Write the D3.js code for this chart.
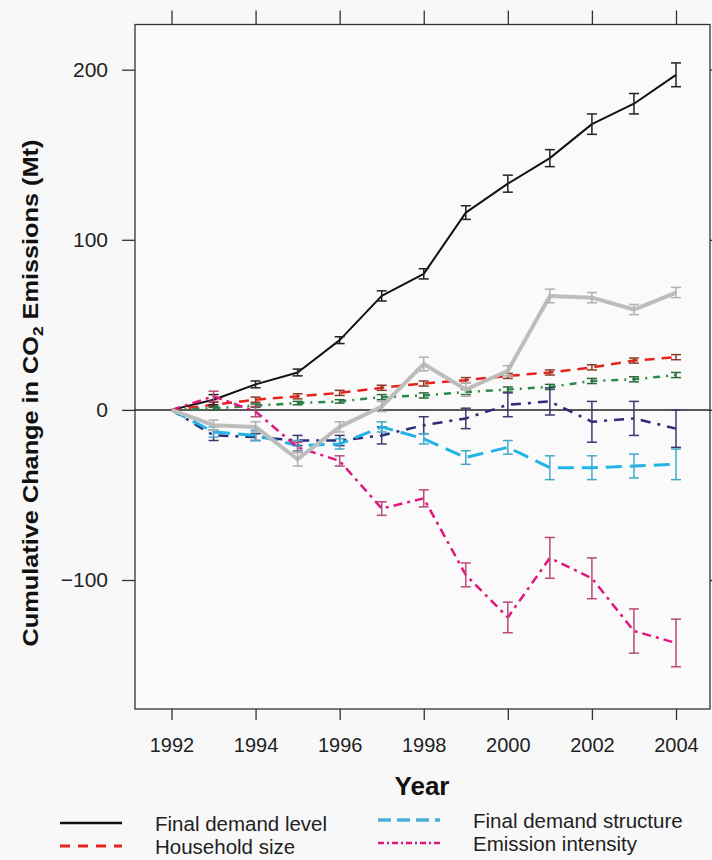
<!DOCTYPE html>
<html>
  <head>
    <meta charset="utf-8" />
    <script src="https://d3js.org/d3.v7.min.js"></script>
    <style>
      body { margin: 0; background: #f8f8f8; }
      svg { display: block; font-family: "Liberation Sans", Arial, sans-serif; }
    </style>
  </head>
  <body>
    <div id="main"></div>
    <script>
      // Data
      const years = [1992, 1993, 1994, 1995, 1996, 1997, 1998, 1999, 2000, 2001, 2002, 2003, 2004];
      const xTicks = [1992, 1994, 1996, 1998, 2000, 2002, 2004];
      const yTicks = [-100, 0, 100, 200];

      const finalDemandLevel = [0, 6, 15, 22, 41, 67, 80, 116, 133, 148, 168, 180, 197];
      const finalDemandLevelErr = [0, 3, 2, 2, 2, 3, 3, 4, 5, 5, 6, 6, 7];
      const householdSize = [0, 3, 6, 8, 10, 13, 15.5, 17.5, 20, 22, 25, 29, 31];
      const householdSizeErr = [0, 1.5, 1.5, 1.5, 1.5, 1.5, 1.5, 1.5, 1.5, 1.5, 1.5, 1.5, 1.5];
      const greenSeries = [0, 1, 2.5, 4, 5, 7.5, 8.5, 10.5, 12, 13.5, 17, 18, 20.5];
      const greenSeriesErr = [0, 1, 1, 1, 1, 1.5, 1.5, 1.5, 1.5, 1.5, 1.5, 1.5, 1.5];
      const navySeries = [0, -15, -16, -18, -18, -15, -9, -5, 3, 5, -7, -5, -11];
      const navySeriesErr = [0, 3, 2, 3, 3, 5, 5, 6, 7, 8, 12, 10, 11];
      const finalDemandStructure = [0, -13, -15, -21, -20, -10, -17, -28, -22, -34, -34, -33, -32];
      const finalDemandStructureErr = [0, 3, 3, 3, 3, 3, 3, 4, 4, 7, 7, 7, 9];
      const emissionIntensity = [0, 8, -1, -22, -30, -58, -52, -97, -122, -87, -99, -130, -137];
      const emissionIntensityErr = [0, 3, 3, 3, 3, 4, 5, 7, 9, 12, 12, 13, 14];
      const totalChange = [0, -9, -10, -29, -10, 2, 27, 12, 23, 67, 66, 59, 69];
      const totalChangeErr = [0, 3, 3, 4, 3, 3, 4, 4, 3, 4, 3, 3, 3];

      const legendLabels = ["Final demand level", "Household size", "Final demand structure", "Emission intensity"];

      const W = 712, H = 860;
      const svg = d3.select("#main").append("svg").attr("width", W).attr("height", H);

      const frame = { left: 135, right: 710, top: 24.5, bottom: 709 };
      const x = d3.scaleLinear().domain([1992, 2004]).range([171.5, 676]);
      const y = d3.scaleLinear().domain([-100, 200]).range([580, 69.7]);

      // plot background + frame
      svg.append("rect")
        .attr("x", frame.left).attr("y", frame.top)
        .attr("width", frame.right - frame.left).attr("height", frame.bottom - frame.top)
        .attr("fill", "#fafafa").attr("stroke", "#333").attr("stroke-width", 1.3);

      // axes (ticks outward)
      const axisStyle = (g) => {
        g.select(".domain").remove();
        g.selectAll(".tick line").attr("stroke", "#333").attr("stroke-width", 1.3);
        g.selectAll(".tick text").attr("fill", "#222").attr("font-family", "Liberation Sans, Arial, sans-serif");
      };
      svg.append("g").attr("transform", `translate(0,${frame.bottom})`)
        .call(d3.axisBottom(x).tickValues(xTicks).tickFormat(d3.format("d")).tickSize(11).tickPadding(18))
        .call(axisStyle)
        .selectAll("text").attr("font-size", 20);
      svg.append("g").attr("transform", `translate(0,${frame.top})`)
        .call(d3.axisTop(x).tickValues(xTicks).tickFormat("").tickSize(14))
        .call(axisStyle);
      svg.append("g").attr("transform", `translate(${frame.left},0)`)
        .call(d3.axisLeft(y).tickValues(yTicks).tickSize(13).tickPadding(14))
        .call(axisStyle)
        .selectAll("text").attr("font-size", 21);
      svg.append("g").attr("transform", `translate(${frame.right},0)`)
        .call(d3.axisRight(y).tickValues(yTicks).tickFormat("").tickSize(10))
        .call(axisStyle);

      // zero line
      svg.append("line")
        .attr("x1", frame.left).attr("x2", frame.right)
        .attr("y1", y(0)).attr("y2", y(0))
        .attr("stroke", "#222").attr("stroke-width", 1.5);

      const series = [
        { vals: householdSize, err: householdSizeErr, color: "#e8231c", bar: "#8a3a2a", dash: "10,7", w: 2.5 },
        { vals: greenSeries, err: greenSeriesErr, color: "#2a8a4c", bar: "#2a6a3c", dash: "7,6,2,6", w: 2.5 },
        { vals: navySeries, err: navySeriesErr, color: "#2c2c78", bar: "#3a3a70", dash: "10,7,3,7", w: 2.5 },
        { vals: finalDemandStructure, err: finalDemandStructureErr, color: "#22b4e6", bar: "#44a8c8", dash: "16,8", w: 3 },
        { vals: finalDemandLevel, err: finalDemandLevelErr, color: "#111", bar: "#222", dash: null, w: 2 },
        { vals: emissionIntensity, err: emissionIntensityErr, color: "#e0157d", bar: "#b84a78", dash: "9,5,3,5", w: 2.5 },
        { vals: totalChange, err: totalChangeErr, color: "#bdbdbd", bar: "#b0b0b0", dash: null, w: 4 }
      ];

      const line = d3.line().x((d) => x(d[0])).y((d) => y(d[1]));

      series.forEach((s) => {
        const pts = years.map((yr, i) => [yr, s.vals[i], s.err[i]]);
        svg.append("path")
          .attr("d", line(pts))
          .attr("fill", "none")
          .attr("stroke", s.color)
          .attr("stroke-width", s.w)
          .attr("stroke-linejoin", "round")
          .attr("stroke-dasharray", s.dash);
        const bars = svg.append("g").attr("stroke", s.bar).attr("stroke-width", 1.5);
        pts.filter((d) => d[2] > 0).forEach((d) => {
          const cx = x(d[0]), y1 = y(d[1] + d[2]), y2 = y(d[1] - d[2]);
          bars.append("line").attr("x1", cx).attr("x2", cx).attr("y1", y1).attr("y2", y2);
          bars.append("line").attr("x1", cx - 5).attr("x2", cx + 5).attr("y1", y1).attr("y2", y1);
          bars.append("line").attr("x1", cx - 5).attr("x2", cx + 5).attr("y1", y2).attr("y2", y2);
        });
      });

      // axis titles
      svg.append("text")
        .attr("x", 422).attr("y", 795)
        .attr("text-anchor", "middle")
        .attr("font-size", 26).attr("font-weight", "bold").attr("fill", "#111")
        .text("Year");

      const yt = svg.append("text")
        .attr("transform", "translate(38,393) rotate(-90) scale(1.15,1)")
        .attr("text-anchor", "middle")
        .attr("font-size", 22).attr("font-weight", "bold").attr("fill", "#111");
      yt.append("tspan").text("Cumulative Change in CO");
      yt.append("tspan").attr("font-size", 15).attr("dy", 5).text("2");
      yt.append("tspan").attr("dy", -5).text(" Emissions  (Mt)");

      // legend (only the rows that fit on the page)
      const legend = [
        { label: legendLabels[0], color: "#111", dash: null, w: 2.5, x0: 60, y0: 823 },
        { label: legendLabels[1], color: "#e8231c", dash: "10,8", w: 3, x0: 60, y0: 846 },
        { label: legendLabels[2], color: "#4ab0d8", dash: "13,6", w: 3.5, x0: 378, y0: 820 },
        { label: legendLabels[3], color: "#e0157d", dash: "6,3,2,3", w: 2.5, x0: 378, y0: 843 }
      ];
      legend.forEach((l) => {
        svg.append("line")
          .attr("x1", l.x0).attr("x2", l.x0 + 62)
          .attr("y1", l.y0).attr("y2", l.y0)
          .attr("stroke", l.color).attr("stroke-width", l.w)
          .attr("stroke-dasharray", l.dash);
        svg.append("text")
          .attr("x", l.x0 + 95).attr("y", l.y0 + 8)
          .attr("font-size", 20.5).attr("fill", "#222")
          .text(l.label);
      });
    </script>
  </body>
</html>
